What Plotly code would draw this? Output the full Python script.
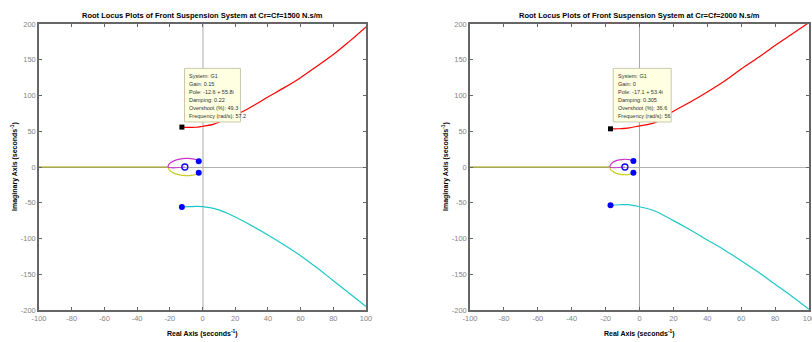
import plotly.graph_objects as go

# ---------------- data ----------------
# Left plot: Cr=Cf=1500 N.s/m
L_red_x = [-12.6, -8, -4, 0, 7, 15, 24, 32, 40, 50, 60, 70, 81, 90, 100]
L_red_y = [55.8, 55.5, 55.6, 57, 60, 68, 77, 87, 98, 111, 125, 141, 159, 176, 196]
L_cyan_x = [-12.6, -8, -4, 0, 10, 20, 30, 40, 50, 60, 70, 80, 90, 100]
L_cyan_y = [-55.8, -55.5, -55.2, -55.5, -60, -70, -82, -95, -109, -124, -141, -159, -177, -195]
L_mag_x = [-2.3, -4, -7, -10, -14, -17.5, -20, -21, -10.8]
L_mag_y = [8, 10.5, 11.8, 12, 11, 8.5, 5, 0, 0]
L_yel_x = [-2.3, -4, -7, -10, -14, -17.5, -20, -21]
L_yel_y = [-8, -10.5, -11.8, -12, -11, -8.5, -5, 0]
L_axis_x = [-21, -100]
L_axis_y = [0, 0]
L_poles_x = [-12.6, -2.3, -2.3]
L_poles_y = [-55.8, 8, -8]
L_zero_x = [-10.8]
L_zero_y = [0]
L_tip = [-12.6, 55.8]
L_tip_text = ["System: G1", "Gain: 0.15", "Pole: -12.6 + 55.8i", "Damping: 0.22",
              "Overshoot (%): 49.3", "Frequency (rad/s): 57.2"]
L_title = "Root Locus Plots of Front Suspension System at Cr=Cf=1500 N.s/m"

# Right plot: Cr=Cf=2000 N.s/m
R_red_x = [-17.1, -12, -7, 0, 9, 20, 30, 40, 50, 60, 70, 80, 90, 100]
R_red_y = [53.4, 53.5, 54.4, 57.5, 62, 78, 91, 105, 120, 137, 153, 170, 186, 202]
R_cyan_x = [-17.1, -12, -7, 0, 9, 20, 30, 40, 50, 60, 70, 80, 90, 100]
R_cyan_y = [-53.4, -52.8, -52.6, -55.6, -61.6, -75, -88, -102, -116, -131, -147, -164, -181, -199]
R_mag_x = [-3.6, -6, -9, -12, -15, -17, -17.4, -8.6]
R_mag_y = [8.5, 10.3, 10.8, 10, 7.5, 3.5, 0, 0]
R_yel_x = [-3.6, -6, -9, -12, -15, -17, -17.4]
R_yel_y = [-8, -10.3, -10.8, -10, -7.5, -3.5, 0]
R_axis_x = [-17.4, -100]
R_axis_y = [0, 0]
R_poles_x = [-17.1, -3.6, -3.6]
R_poles_y = [-53.4, 8.5, -8]
R_zero_x = [-8.6]
R_zero_y = [0]
R_tip = [-17.1, 53.4]
R_tip_text = ["System: G1", "Gain: 0", "Pole: -17.1 + 53.4i", "Damping: 0.305",
              "Overshoot (%): 36.6", "Frequency (rad/s): 56"]
R_title = "Root Locus Plots of Front Suspension System at Cr=Cf=2000 N.s/m"

x_ticks = [-100, -80, -60, -40, -20, 0, 20, 40, 60, 80, 100]
y_ticks = [-200, -150, -100, -50, 0, 50, 100, 150, 200]

# ---------------- figure ----------------
W, H = 812, 342
FONT = "Liberation Sans, Arial, sans-serif"
RED, CYAN, MAG, YEL, OLIVE, BLUE = "#ff0000", "#1ec8c8", "#cc33cc", "#cccc22", "#a0a000", "#0000ff"

fig = go.Figure()

panels = [
    dict(xa="x", ya="y", red=(L_red_x, L_red_y), cyan=(L_cyan_x, L_cyan_y), mag=(L_mag_x, L_mag_y),
         yel=(L_yel_x, L_yel_y), ax=(L_axis_x, L_axis_y), poles=(L_poles_x, L_poles_y),
         zero=(L_zero_x, L_zero_y), tip=L_tip, tiptext=L_tip_text, title=L_title,
         px=(39, 366), zc="#d4d4d4", zw=2),
    dict(xa="x2", ya="y2", red=(R_red_x, R_red_y), cyan=(R_cyan_x, R_cyan_y), mag=(R_mag_x, R_mag_y),
         yel=(R_yel_x, R_yel_y), ax=(R_axis_x, R_axis_y), poles=(R_poles_x, R_poles_y),
         zero=(R_zero_x, R_zero_y), tip=R_tip, tiptext=R_tip_text, title=R_title,
         px=(470, 809), zc="#a8a8a8", zw=1),
]

ytop, ybot = 24, 310
for i, p in enumerate(panels):
    xa, ya = p["xa"], p["ya"]
    for key, col in (("ax", OLIVE), ("yel", YEL), ("mag", MAG), ("red", RED), ("cyan", CYAN)):
        fig.add_trace(go.Scatter(x=p[key][0], y=p[key][1], mode="lines", line=dict(color=col, width=1.2),
                                 xaxis=xa, yaxis=ya, showlegend=False, line_shape="spline"))
    fig.add_trace(go.Scatter(x=p["poles"][0], y=p["poles"][1], mode="markers",
                             marker=dict(symbol="circle", size=6, color=BLUE),
                             xaxis=xa, yaxis=ya, showlegend=False))
    fig.add_trace(go.Scatter(x=p["zero"][0], y=p["zero"][1], mode="markers",
                             marker=dict(symbol="circle-open", size=6, color=BLUE, line=dict(width=1.3)),
                             xaxis=xa, yaxis=ya, showlegend=False))
    fig.add_trace(go.Scatter(x=[p["tip"][0]], y=[p["tip"][1]], mode="markers",
                             marker=dict(symbol="square", size=5, color="black"),
                             xaxis=xa, yaxis=ya, showlegend=False))

    x0, x1 = p["px"]
    dom_x = [x0 / W, x1 / W]
    dom_y = [1 - ybot / H, 1 - ytop / H]
    axcommon = dict(showline=True, linecolor="#666666", linewidth=1.5, mirror="ticks",
                    ticks="inside", ticklen=3, tickcolor="#666666", tickwidth=1,
                    showgrid=False, zeroline=True, automargin=False,
                    ticklabeloverflow="allow",
                    tickfont=dict(family=FONT, size=7.5, color="#858585"))
    sfx = "" if i == 0 else "2"
    fig.layout["xaxis" + sfx] = dict(domain=dom_x, range=[-100, 100], tickvals=x_ticks,
                                    ticktext=[str(v) for v in x_ticks],
                                    anchor="y" + sfx, zerolinecolor=p["zc"], zerolinewidth=p["zw"],
                                    **axcommon)
    fig.layout["yaxis" + sfx] = dict(domain=dom_y, range=[-200, 200], tickvals=y_ticks,
                                    ticktext=[str(v) for v in y_ticks],
                                    anchor="x" + sfx, zerolinecolor="#b0b0b0", zerolinewidth=1,
                                    **axcommon)
    cx = (x0 + x1) / 2 / W
    fig.add_annotation(text="<b>" + p["title"] + "</b>", xref="paper", yref="paper",
                       x=cx, y=1 - 15 / H, showarrow=False, xanchor="center", yanchor="middle",
                       font=dict(family=FONT, size=7.5, color="black"))
    fig.add_annotation(text="<b>Real Axis (seconds<sup>-1</sup>)</b>", xref="paper", yref="paper",
                       x=cx, y=1 - 333 / H, showarrow=False, xanchor="center", yanchor="middle",
                       font=dict(family=FONT, size=7, color="black"))
    fig.add_annotation(text="<b>Imaginary Axis (seconds<sup>-1</sup>)</b>", xref="paper", yref="paper",
                       x=(x0 - 25) / W, y=1 - 167 / H, showarrow=False, textangle=-90,
                       xanchor="center", yanchor="middle",
                       font=dict(family=FONT, size=7, color="black"))
    # data tip box (layout decoration anchored at the selected pole)
    tx, ty = p["tip"]
    fig.add_shape(type="rect", xref=xa, yref=ya, x0=tx + 1.6, x1=tx + 35.8, y0=63, y1=138,
                  fillcolor="#ffffe1", line=dict(color="#c8c8b0", width=1), layer="above")
    for k, line in enumerate(p["tiptext"]):
        fig.add_annotation(text=line, xref=xa, yref=ya, x=tx + 3.2, y=127 - 11 * k,
                           showarrow=False, xanchor="left", yanchor="middle",
                           font=dict(family=FONT, size=5.5, color="#333333"))

fig.update_layout(width=W, height=H, margin=dict(l=0, r=0, t=0, b=0),
                  paper_bgcolor="white", plot_bgcolor="white", showlegend=False)
fig.write_html("out.html")
